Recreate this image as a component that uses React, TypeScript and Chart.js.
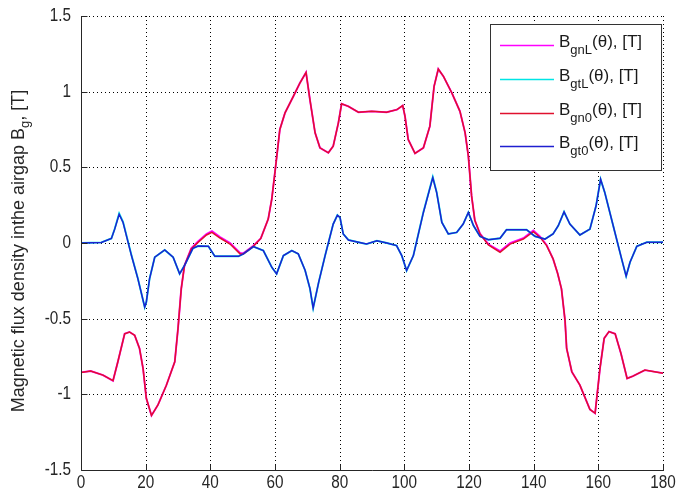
import React, { useEffect, useRef } from "react";
import { Chart, registerables } from "chart.js";

Chart.register(...registerables);

const W = 676;
const H = 497;

// ---- data ----
const thetaN = [0, 3, 6.8, 9.9, 11.4, 13.5, 15, 16.6, 18.1, 19.2, 20.2, 21.8, 23.8, 26.4, 29, 30, 31, 32, 34.1, 36.2, 38.8, 40.5, 43, 46.1, 49.2, 50.2, 53.3, 55.6, 57.9, 59, 60, 61.5, 63.1, 65.7, 67.7, 69.6, 70.8, 72.4, 73.9, 76.5, 78, 79.6, 80.6, 82.7, 85.8, 89.9, 94.5, 97.7, 99.5, 100.2, 101.2, 103.3, 105.9, 107.9, 109.2, 110.5, 112.1, 114.7, 117.2, 118.8, 119.8, 120.8, 121.8, 123.4, 126, 129.6, 132.7, 136.8, 139.9, 142, 144, 146, 147.4, 148.6, 149.7, 150.2, 151.8, 154.3, 157.4, 159, 160.5, 161.8, 163.3, 165.2, 167, 168.9, 170.7, 174.4, 180];
const bgn0 = [-0.855, -0.846, -0.873, -0.91, -0.785, -0.6, -0.588, -0.61, -0.697, -0.83, -1.026, -1.14, -1.07, -0.94, -0.785, -0.566, -0.303, -0.149, -0.039, 0.004, 0.053, 0.07, 0.033, -0.007, -0.072, -0.072, -0.022, 0.03, 0.158, 0.29, 0.47, 0.75, 0.86, 0.97, 1.057, 1.127, 0.947, 0.728, 0.629, 0.596, 0.64, 0.794, 0.92, 0.903, 0.864, 0.87, 0.864, 0.881, 0.908, 0.838, 0.684, 0.592, 0.629, 0.772, 1.035, 1.149, 1.101, 0.991, 0.87, 0.728, 0.574, 0.311, 0.15, 0.06, -0.013, -0.061, -0.007, 0.026, 0.075, 0.037, -0.017, -0.105, -0.2, -0.303, -0.511, -0.697, -0.851, -0.939, -1.1, -1.125, -0.83, -0.63, -0.585, -0.6, -0.73, -0.895, -0.88, -0.84, -0.86];
const bgnL = [-0.855, -0.846, -0.873, -0.91, -0.785, -0.6, -0.588, -0.61, -0.697, -0.83, -1.026, -1.14, -1.07, -0.94, -0.785, -0.566, -0.303, -0.149, -0.035, 0.01, 0.06, 0.078, 0.04, 0.0, -0.065, -0.068, -0.018, 0.03, 0.158, 0.29, 0.47, 0.75, 0.86, 0.97, 1.057, 1.127, 0.947, 0.728, 0.629, 0.596, 0.64, 0.794, 0.92, 0.903, 0.864, 0.87, 0.864, 0.881, 0.908, 0.838, 0.684, 0.592, 0.629, 0.772, 1.035, 1.149, 1.101, 0.991, 0.87, 0.728, 0.574, 0.311, 0.15, 0.062, -0.008, -0.054, 0.0, 0.032, 0.082, 0.042, -0.013, -0.105, -0.2, -0.303, -0.511, -0.697, -0.851, -0.939, -1.1, -1.125, -0.83, -0.63, -0.585, -0.6, -0.73, -0.895, -0.88, -0.84, -0.86];

const thetaT = [0, 6.3, 9.4, 10.4, 11.8, 13, 15.6, 17.6, 19.7, 20.2, 21.2, 22.8, 25.9, 28.5, 30.5, 32, 34.6, 36.2, 39.4, 41.4, 48.7, 50.2, 53.3, 56.4, 59, 60.5, 62.6, 65.2, 67.2, 69.3, 70.8, 71.8, 73.5, 75.5, 78, 79.3, 80.1, 81.1, 82.7, 85.8, 88.3, 91.5, 94.6, 97.6, 99.2, 100.7, 102.8, 105.9, 108.8, 110, 111.6, 113.6, 116.2, 118.2, 119.8, 121.4, 123.4, 126, 129.6, 131.6, 137.8, 140.4, 143.5, 146, 147.6, 149.4, 151.2, 154.3, 157.4, 159.3, 160.7, 162, 164.6, 167.2, 168.6, 169.8, 171.9, 175, 180];
const bgt0 = [0, 0.004, 0.03, 0.09, 0.19, 0.136, -0.083, -0.237, -0.423, -0.39, -0.237, -0.094, -0.046, -0.094, -0.204, -0.149, -0.035, -0.02, -0.022, -0.088, -0.088, -0.072, -0.024, -0.05, -0.16, -0.204, -0.083, -0.05, -0.072, -0.18, -0.3, -0.43, -0.26, -0.083, 0.125, 0.184, 0.169, 0.06, 0.02, 0.005, -0.007, 0.015, 0, -0.017, -0.083, -0.182, -0.083, 0.202, 0.432, 0.333, 0.136, 0.06, 0.07, 0.125, 0.202, 0.114, 0.044, 0.022, 0.031, 0.088, 0.088, 0.044, 0.026, 0.06, 0.114, 0.206, 0.125, 0.053, 0.092, 0.246, 0.421, 0.333, 0.114, -0.105, -0.219, -0.127, -0.022, 0.005, 0.005];
const bgtL = [0, 0.004, 0.03, 0.092, 0.195, 0.14, -0.08, -0.235, -0.425, -0.392, -0.237, -0.094, -0.046, -0.094, -0.204, -0.149, -0.035, -0.02, -0.022, -0.088, -0.088, -0.072, -0.024, -0.05, -0.16, -0.204, -0.083, -0.05, -0.072, -0.18, -0.3, -0.43, -0.26, -0.083, 0.125, 0.184, 0.169, 0.06, 0.02, 0.005, -0.007, 0.015, 0, -0.017, -0.083, -0.182, -0.083, 0.205, 0.436, 0.336, 0.138, 0.06, 0.07, 0.125, 0.202, 0.114, 0.044, 0.022, 0.031, 0.088, 0.088, 0.044, 0.026, 0.06, 0.114, 0.206, 0.125, 0.053, 0.092, 0.246, 0.421, 0.333, 0.114, -0.105, -0.219, -0.127, -0.022, 0.005, 0.005];

const xTicks = [0, 20, 40, 60, 80, 100, 120, 140, 160, 180];
const yTicks = [-1.5, -1, -0.5, 0, 0.5, 1, 1.5];
const yTickLabels = ["-1.5", "-1", "-0.5", "0", "0.5", "1", "1.5"];

const legendMain = ["B", "B", "B", "B"];
const legendSubs = ["gnL", "gtL", "gn0", "gt0"];
const legendRest = ["(θ), [T]", "(θ), [T]", "(θ), [T]", "(θ), [T]"];
const seriesColors = ["#ff00ff", "#00e5e5", "#e0102e", "#1f1fd0"];

const yTitleMain = "Magnetic flux density inthe airgap B";
const yTitleSub = "g";
const yTitleRest = ", [T]";

const toPts = (xs: number[], ys: number[]) => xs.map((x, i) => ({ x, y: ys[i] }));

const FONT = "'Liberation Sans', Arial, sans-serif";

const matlabPlugin = {
  id: "matlabLook",
  beforeDatasetsDraw(chart: any) {
    const { ctx, chartArea } = chart;
    const { left, right, top, bottom } = chartArea;
    const xs = chart.scales.x;
    const ys = chart.scales.y;
    ctx.save();
    ctx.strokeStyle = "#000";
    ctx.lineWidth = 1;
    ctx.setLineDash([1, 3]);
    xTicks.forEach((v) => {
      if (v === 0) return;
      const px = Math.round(xs.getPixelForValue(v)) + 0.5;
      ctx.beginPath();
      ctx.moveTo(px, top);
      ctx.lineTo(px, bottom);
      ctx.stroke();
    });
    yTicks.forEach((v) => {
      if (v === -1.5) return;
      const py = Math.round(ys.getPixelForValue(v)) + 0.5;
      ctx.beginPath();
      ctx.moveTo(left, py);
      ctx.lineTo(right, py);
      ctx.stroke();
    });
    ctx.restore();
  },
  afterDraw(chart: any) {
    const { ctx, chartArea } = chart;
    const { left, right, top, bottom } = chartArea;
    const xs = chart.scales.x;
    const ys = chart.scales.y;
    ctx.save();
    // axes
    ctx.strokeStyle = "#262626";
    ctx.lineWidth = 1;
    ctx.setLineDash([]);
    const lx = Math.round(left) + 0.5;
    const by = Math.round(bottom) + 0.5;
    ctx.beginPath();
    ctx.moveTo(lx, top);
    ctx.lineTo(lx, by);
    ctx.lineTo(right + 1, by);
    ctx.stroke();
    // inward ticks
    xTicks.forEach((v) => {
      const px = Math.round(xs.getPixelForValue(v)) + 0.5;
      ctx.beginPath();
      ctx.moveTo(px, by);
      ctx.lineTo(px, by - 6);
      ctx.stroke();
    });
    yTicks.forEach((v) => {
      const py = Math.round(ys.getPixelForValue(v)) + 0.5;
      ctx.beginPath();
      ctx.moveTo(lx, py);
      ctx.lineTo(lx + 6, py);
      ctx.stroke();
    });
    // tick labels (slightly condensed)
    ctx.fillStyle = "#262626";
    ctx.font = `18px ${FONT}`;
    const sx = 0.85;
    xTicks.forEach((v) => {
      const px = xs.getPixelForValue(v);
      ctx.save();
      ctx.translate(px, bottom + 4);
      ctx.scale(sx, 1);
      ctx.textAlign = "center";
      ctx.textBaseline = "top";
      ctx.fillText(String(v), 0, 0);
      ctx.restore();
    });
    yTicks.forEach((v, i) => {
      const py = ys.getPixelForValue(v);
      ctx.save();
      ctx.translate(left - 10, py);
      ctx.scale(sx, 1);
      ctx.textAlign = "right";
      ctx.textBaseline = "middle";
      ctx.fillText(yTickLabels[i], 0, 0);
      ctx.restore();
    });
    // y title
    ctx.save();
    const mainF = `18px ${FONT}`;
    const subF = `13px ${FONT}`;
    ctx.font = mainF;
    const w1 = ctx.measureText(yTitleMain).width;
    const w3 = ctx.measureText(yTitleRest).width;
    ctx.font = subF;
    const w2 = ctx.measureText(yTitleSub).width;
    const total = w1 + w2 + w3;
    ctx.translate(24, 251);
    ctx.rotate(-Math.PI / 2);
    ctx.textBaseline = "alphabetic";
    ctx.textAlign = "left";
    let cx = -total / 2;
    ctx.font = mainF;
    ctx.fillText(yTitleMain, cx, 0);
    cx += w1;
    ctx.font = subF;
    ctx.fillText(yTitleSub, cx, 5);
    cx += w2;
    ctx.font = mainF;
    ctx.fillText(yTitleRest, cx, 0);
    ctx.restore();

    // legend
    const bx = 490.5, byy = 24.5, bw = 171, bh = 146;
    ctx.fillStyle = "#ffffff";
    ctx.fillRect(bx, byy, bw, bh);
    ctx.strokeStyle = "#333";
    ctx.lineWidth = 1;
    ctx.strokeRect(bx, byy, bw, bh);
    const rowY = [45, 79, 113, 146];
    legendSubs.forEach((sub, i) => {
      const yy = rowY[i] + 0.5;
      ctx.strokeStyle = seriesColors[i];
      ctx.lineWidth = 1.5;
      ctx.beginPath();
      ctx.moveTo(500, yy);
      ctx.lineTo(554, yy);
      ctx.stroke();
      ctx.fillStyle = "#1a1a1a";
      ctx.textAlign = "left";
      ctx.textBaseline = "alphabetic";
      let tx = 559;
      ctx.font = `17px ${FONT}`;
      ctx.fillText(legendMain[i], tx, rowY[i] + 2);
      tx += ctx.measureText(legendMain[i]).width;
      ctx.font = `13px ${FONT}`;
      ctx.fillText(sub, tx, rowY[i] + 9);
      tx += ctx.measureText(sub).width;
      ctx.font = `17px ${FONT}`;
      ctx.fillText(legendRest[i], tx, rowY[i] + 2);
    });
    ctx.restore();
  },
};

export default function App() {
  const ref = useRef<HTMLCanvasElement | null>(null);
  useEffect(() => {
    if (!ref.current) return;
    const chart = new Chart(ref.current, {
      type: "line",
      data: {
        datasets: [
          { label: "BgnL", data: toPts(thetaN, bgnL), borderColor: seriesColors[0], borderWidth: 1.9, order: 4 },
          { label: "BgtL", data: toPts(thetaT, bgtL), borderColor: seriesColors[1], borderWidth: 1.9, order: 3 },
          { label: "Bgn0", data: toPts(thetaN, bgn0), borderColor: seriesColors[2], borderWidth: 1.5, order: 2 },
          { label: "Bgt0", data: toPts(thetaT, bgt0), borderColor: seriesColors[3], borderWidth: 1.5, order: 1 },
        ],
      },
      options: {
        responsive: false,
        animation: false,
        devicePixelRatio: 1,
        elements: { point: { radius: 0 }, line: { tension: 0, fill: false } },
        layout: { padding: { left: 0, top: 16, right: 13, bottom: 0 } },
        plugins: { legend: { display: false }, tooltip: { enabled: false }, title: { display: false } },
        scales: {
          x: {
            type: "linear",
            min: 0,
            max: 180,
            ticks: { display: false },
            grid: { display: false },
            border: { display: false },
            afterFit: (s: any) => { s.height = 27; },
          },
          y: {
            type: "linear",
            min: -1.5,
            max: 1.5,
            ticks: { display: false },
            grid: { display: false },
            border: { display: false },
            afterFit: (s: any) => { s.width = 81; },
          },
        },
      },
      plugins: [matlabPlugin],
    });
    return () => chart.destroy();
  }, []);
  return (
    <div style={{ position: "absolute", left: 0, top: 0, width: W, height: H, background: "#fff" }}>
      <canvas ref={ref} width={W} height={H} style={{ display: "block" }} />
    </div>
  );
}
